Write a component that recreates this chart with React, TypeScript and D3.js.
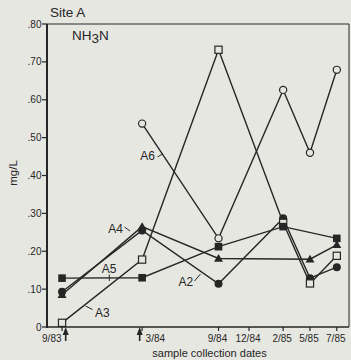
import React from "react";
import * as d3 from "d3";

const W = 351;
const H = 360;

// sample dates (x positions of data)
const sampleDates = ["1983-09-01", "1984-03-16", "1984-09-20", "1985-02-26", "1985-05-03", "1985-07-08"];
// axis tick dates & labels
const tickDates = ["1983-09-01", "1984-03-16", "1984-09-20", "1984-12-04", "1985-02-26", "1985-05-03", "1985-07-08"];
const tickLabels = ["9/83", "3/84", "9/84", "12/84", "2/85", "5/85", "7/85"];
// arrows (treatment dates)
const arrowDates = ["1983-09-10", "1984-03-10"];

const yTicks = [0, 0.1, 0.2, 0.3, 0.4, 0.5, 0.6, 0.7, 0.8];
const yTickLabels = ["0", ".10", ".20", ".30", ".40", ".50", ".60", ".70", ".80"];

const seriesNames = ["A2", "A3", "A4", "A5", "A6"];
const A2 = [0.093, 0.255, 0.114, 0.287, 0.129, 0.158];
const A3 = [0.011, 0.178, 0.732, 0.275, 0.115, 0.188];
const A4 = [0.085, 0.265, 0.181, null, 0.179, 0.217];
const A5 = [0.129, 0.13, 0.212, 0.265, null, 0.234];
const A6 = [null, 0.537, 0.234, 0.626, 0.46, 0.679];
const seriesValues = [A2, A3, A4, A5, A6];
const seriesMarkers = ["filledCircle", "openSquare", "triangle", "filledSquare", "openCircle"];

const BG = "#e7e7e2";
const INK = "#262626";
const FONT = "'Liberation Sans', Arial, Helvetica, sans-serif";

const parse = (s: string) => new Date(s + "T00:00:00Z");

export default function App() {
  const left = 47, right = 349, top = 24, bottom = 327;
  const x = d3.scaleUtc().domain([parse("1983-07-26"), parse("1985-08-07")]).range([left, right]);
  const y = d3.scaleLinear().domain([0, 0.8]).range([bottom, top]);

  const line = d3
    .line<[number, number]>()
    .x((d) => d[0])
    .y((d) => d[1]);

  const series = seriesNames.map((name, i) => {
    const pts: [number, number][] = [];
    seriesValues[i].forEach((v, j) => {
      if (v !== null && v !== undefined) pts.push([x(parse(sampleDates[j])), y(v as number)]);
    });
    return { name, pts, marker: seriesMarkers[i] };
  });

  const marker = (m: string, px: number, py: number, key: string) => {
    switch (m) {
      case "filledCircle":
        return <circle key={key} cx={px} cy={py} r={4} fill={INK} />;
      case "openCircle":
        return <circle key={key} cx={px} cy={py} r={3.6} fill={BG} stroke={INK} strokeWidth={1.2} />;
      case "openSquare":
        return <rect key={key} x={px - 3.6} y={py - 3.6} width={7.2} height={7.2} fill={BG} stroke={INK} strokeWidth={1.2} />;
      case "filledSquare":
        return <rect key={key} x={px - 3.8} y={py - 3.8} width={7.6} height={7.6} fill={INK} />;
      case "triangle":
        return (
          <path key={key} d={`M${px},${py - 4.5}L${px + 4.5},${py + 3.2}L${px - 4.5},${py + 3.2}Z`} fill={INK} />
        );
    }
    return null;
  };

  // label anchors in data space
  const xd = (i: number) => x(parse(sampleDates[i]));

  return (
    <svg width={W} height={H} style={{ position: "absolute", left: 0, top: 0 }} fontFamily={FONT}>
      <rect x={0} y={0} width={W} height={H} fill={BG} />
      {/* frame */}
      <line x1={left} y1={top} x2={right} y2={top} stroke={INK} strokeWidth={1} />
      <line x1={right} y1={top} x2={right} y2={bottom} stroke={INK} strokeWidth={1} />
      <line x1={left} y1={top} x2={left} y2={bottom + 1} stroke={INK} strokeWidth={2} />
      <line x1={left} y1={bottom} x2={right} y2={bottom} stroke={INK} strokeWidth={1.5} />

      {/* y ticks */}
      {yTicks.map((t, i) => (
        <g key={"yt" + i}>
          <line x1={left - 5} x2={left} y1={y(t)} y2={y(t)} stroke={INK} strokeWidth={1.2} />
          <text x={left - 5.5} y={y(t) + 3.6} fontSize={10} textAnchor="end" fill={INK}>
            {yTickLabels[i]}
          </text>
        </g>
      ))}

      {/* x ticks */}
      {tickDates.map((d, i) => {
        const px = x(parse(d));
        let anchor: "start" | "middle" | "end" = "middle";
        let tx = px - 1;
        if (i === 0) {
          anchor = "end";
          tx = px - 0.5;
        } else if (i === 1) {
          anchor = "start";
          tx = px + 3.5;
        }
        return (
          <g key={"xt" + i}>
            <line x1={px} x2={px} y1={bottom} y2={bottom + 4} stroke={INK} strokeWidth={1.2} />
            <text x={tx} y={341.5} fontSize={10} textAnchor={anchor} fill={INK}>
              {tickLabels[i]}
            </text>
          </g>
        );
      })}

      {/* arrows */}
      {arrowDates.map((d, i) => {
        const px = x(parse(d));
        return (
          <g key={"ar" + i}>
            <line x1={px} x2={px} y1={331} y2={341} stroke={INK} strokeWidth={1.6} />
            <path d={`M${px},${bottom}L${px + 3},${bottom + 8}L${px - 3},${bottom + 8}Z`} fill={INK} />
          </g>
        );
      })}

      {/* lines */}
      {series.map((s) => (
        <path key={"l" + s.name} d={line(s.pts) || ""} fill="none" stroke={INK} strokeWidth={1.4} />
      ))}
      {/* markers */}
      {series.map((s) => s.pts.map((p, j) => marker(s.marker, p[0], p[1], s.name + j)))}

      {/* series labels */}
      <text x={155} y={160} fontSize={12} textAnchor="end" fill={INK}>A6</text>
      <line x1={157.5} y1={157} x2={162.5} y2={154} stroke={INK} strokeWidth={1} />

      <text x={123} y={233} fontSize={12} textAnchor="end" fill={INK}>A4</text>
      <line x1={124.5} y1={227} x2={130} y2={231} stroke={INK} strokeWidth={1} />

      <text x={109} y={272.5} fontSize={12} textAnchor="middle" fill={INK}>A5</text>
      <line x1={109.3} y1={274.5} x2={109.3} y2={281} stroke={INK} strokeWidth={1} />

      <text x={95} y={316.5} fontSize={12} textAnchor="start" fill={INK}>A3</text>
      <line x1={85.5} y1={306} x2={92.5} y2={309.5} stroke={INK} strokeWidth={1} />

      <text x={178.5} y={285.5} fontSize={12} textAnchor="start" fill={INK}>A2</text>
      <line x1={194.5} y1={281} x2={200.5} y2={274} stroke={INK} strokeWidth={1} />

      {/* titles */}
      <text x={50} y={17} fontSize={13.5} fill={INK}>Site A</text>
      <text x={72} y={40} fontSize={13.5} fill={INK}>
        NH<tspan dy={2.5}>3</tspan><tspan dy={-2.5}>N</tspan>
      </text>
      <text transform={`translate(16.5,173) rotate(-90)`} fontSize={11.5} textAnchor="middle" fill={INK}>
        mg/L
      </text>
      <text x={209.5} y={357} fontSize={11} textAnchor="middle" fill={INK}>
        sample collection dates
      </text>
    </svg>
  );
}
